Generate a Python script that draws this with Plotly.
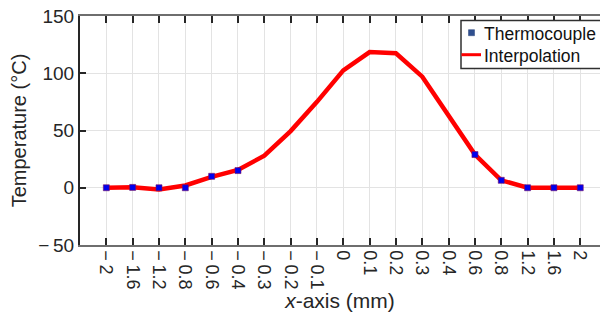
import plotly.graph_objects as go

x_labels = ["\u2212\u20092", "\u2212\u20091.6", "\u2212\u20091.2", "\u2212\u20090.8", "\u2212\u20090.6",
            "\u2212\u20090.4", "\u2212\u20090.3", "\u2212\u20090.2", "\u2212\u20090.1", "0", "0.1", "0.2",
            "0.3", "0.4", "0.6", "0.8", "1.2", "1.6", "2"]
interp_values = [0, 0.5, -1.5, 2, 9.5, 15.5, 28, 49.5, 75, 102.5, 118.5, 117.5, 97, 63, 29, 6.5, 0, 0, 0]
thermo_labels = ["\u2212\u20092", "\u2212\u20091.6", "\u2212\u20091.2", "\u2212\u20090.8",
                 "\u2212\u20090.6", "\u2212\u20090.4", "0.6", "0.8", "1.2", "1.6", "2"]
thermo_values = [0, 0.3, 0, 0, 10, 15, 29, 6.5, 0, 0, 0]
y_ticks = [-50, 0, 50, 100, 150]
y_tick_labels = ["\u2212\u200950", "0", "50", "100", "150"]

pos = {lab: i for i, lab in enumerate(x_labels)}
FONT = "Arial, Liberation Sans, sans-serif"

fig = go.Figure()
fig.add_trace(go.Scatter(
    x=[pos[l] for l in x_labels], y=interp_values, mode="lines", name="Interpolation",
    line=dict(color="#ff0000", width=4.5), showlegend=False))
fig.add_trace(go.Scatter(
    x=[pos[l] for l in thermo_labels], y=thermo_values, mode="markers", name="Thermocouple",
    marker=dict(symbol="square", size=6, color="#0000ee",
                line=dict(color="#7a1060", width=0.6)), showlegend=False))

fig.update_layout(
    width=600, height=320,
    margin=dict(l=80, r=0, t=16, b=75),
    paper_bgcolor="white", plot_bgcolor="white",
    font=dict(family=FONT, size=18, color="#262626"),
    xaxis=dict(
        range=[-1, 18.75],
        tickmode="array", tickvals=list(range(len(x_labels))), ticktext=x_labels,
        tickangle=90, ticks="inside", ticklen=7, tickwidth=1.5, tickcolor="#262626",
        showline=True, linecolor="#6e6e6e", linewidth=1.5, mirror="ticks",
        showgrid=True, gridcolor="#e3e3e3", gridwidth=1, zeroline=False,
        tickfont=dict(size=18),
        title=dict(text="<i>x</i>-axis (mm)", font=dict(size=21), standoff=5),
    ),
    yaxis=dict(
        range=[-50, 150], tickmode="array", tickvals=y_ticks, ticktext=y_tick_labels,
        ticks="inside", ticklen=6, tickwidth=1.5, tickcolor="#262626",
        showline=True, linecolor="#262626", linewidth=2, mirror=False,
        showgrid=True, gridcolor="#e3e3e3", gridwidth=1, zeroline=False,
        tickfont=dict(size=19),
        title=dict(text="Temperature (\u00b0C)", font=dict(size=20), standoff=6),
    ),
    showlegend=False,
)

# manual legend (box, symbols, text)
def px_x(p):
    return (p - 80) / 520.0

def px_y(p):
    return (245 - p) / 229.0

fig.add_shape(type="rect", xref="paper", yref="paper",
              x0=px_x(461), x1=px_x(620), y0=px_y(68.5), y1=px_y(20.5),
              line=dict(color="#303030", width=1.5), fillcolor="white", layer="above")
fig.add_shape(type="rect", xref="paper", yref="paper",
              x0=px_x(468.5), x1=px_x(474.5), y0=px_y(35.7), y1=px_y(29.7),
              line=dict(color="#27407a", width=0.5), fillcolor="#2f4f8f", layer="above")
fig.add_shape(type="line", xref="paper", yref="paper",
              x0=px_x(461.5), x1=px_x(481), y0=px_y(54.7), y1=px_y(54.7),
              line=dict(color="#ff0000", width=3), layer="above")
fig.add_annotation(xref="paper", yref="paper", x=px_x(481.5), y=px_y(33.5),
                   text="Thermocouple", showarrow=False, xanchor="left", yanchor="middle",
                   font=dict(size=17.5, family=FONT, color="#111111"))
fig.add_annotation(xref="paper", yref="paper", x=px_x(481.5), y=px_y(55.5),
                   text="Interpolation", showarrow=False, xanchor="left", yanchor="middle",
                   font=dict(size=17.5, family=FONT, color="#111111"))

fig.write_html("out.html")
